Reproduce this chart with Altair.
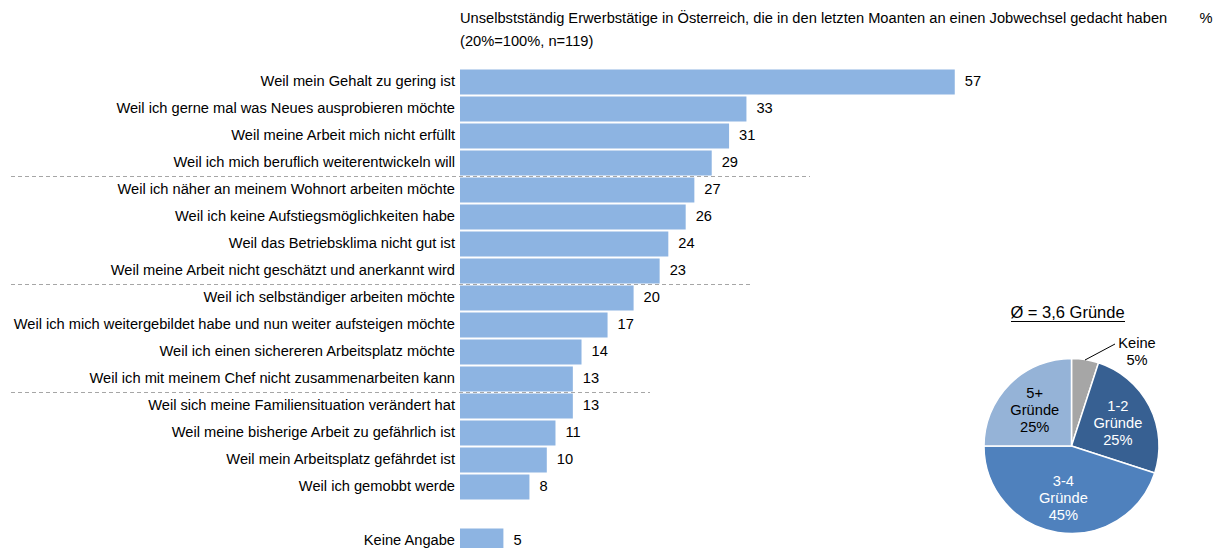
import altair as alt
import pandas as pd

# ---------------- data ----------------
reasons = [
    "Weil mein Gehalt zu gering ist",
    "Weil ich gerne mal was Neues ausprobieren möchte",
    "Weil meine Arbeit mich nicht erfüllt",
    "Weil ich mich beruflich weiterentwickeln will",
    "Weil ich näher an meinem Wohnort arbeiten möchte",
    "Weil ich keine Aufstiegsmöglichkeiten habe",
    "Weil das Betriebsklima nicht gut ist",
    "Weil meine Arbeit nicht geschätzt und anerkannt wird",
    "Weil ich selbständiger arbeiten möchte",
    "Weil ich mich weitergebildet habe und nun weiter aufsteigen möchte",
    "Weil ich einen sichereren Arbeitsplatz möchte",
    "Weil ich mit meinem Chef nicht zusammenarbeiten kann",
    "Weil sich meine Familiensituation verändert hat",
    "Weil meine bisherige Arbeit zu gefährlich ist",
    "Weil mein Arbeitsplatz gefährdet ist",
    "Weil ich gemobbt werde",
    "Keine Angabe",
]
values = [57, 33, 31, 29, 27, 26, 24, 23, 20, 17, 14, 13, 13, 11, 10, 8, 5]

title_line1 = "Unselbstständig Erwerbstätige in Österreich, die in den letzten Moanten an einen Jobwechsel gedacht haben"
title_line2 = "(20%=100%, n=119)"
unit_label = "%"

pie_cats = ["Keine", "1-2", "3-4", "5+"]
pie_vals = [5, 25, 45, 25]
pie_title = "Ø = 3,6 Gründe"

# ---------------- tables ----------------
GAP = " "
y_domain = reasons[:16] + [GAP] + reasons[16:]
bars_df = pd.DataFrame({"reason": reasons, "value": values})

pie_df = pd.DataFrame({
    "cat": pie_cats,
    "pct": pie_vals,
    "ord": list(range(len(pie_cats))),
    "label": [f"{c}\n{v}%" if c == "Keine" else f"{c}\nGründe\n{v}%" for c, v in zip(pie_cats, pie_vals)],
})

FONT = "Liberation Sans"
FS = 14.67
BAR_COLOR = "#8DB4E2"
PIE_COLORS = ["#A6A6A6", "#376092", "#4F81BD", "#95B3D7"]

W = 748
H = 486
STEP = 27
PX_PER_UNIT = 8.68

x_scale = alt.Scale(domain=[0, W / PX_PER_UNIT], nice=False, zero=True)
y_scale = alt.Scale(domain=y_domain, paddingInner=0.08, paddingOuter=0.04)

base = alt.Chart(bars_df)

bars = base.mark_bar(color=BAR_COLOR).encode(
    x=alt.X("value:Q", scale=x_scale, axis=None),
    y=alt.Y("reason:N", scale=y_scale, axis=None),
)

cat_labels = base.mark_text(align="right", baseline="middle", dx=-5, font=FONT, fontSize=FS, color="#000").encode(
    x=alt.value(0),
    y=alt.Y("reason:N", scale=y_scale, axis=None),
    text="reason:N",
)

val_labels = base.mark_text(align="left", baseline="middle", dx=10, font=FONT, fontSize=FS, color="#000").encode(
    x=alt.X("value:Q", scale=x_scale, axis=None),
    y=alt.Y("reason:N", scale=y_scale, axis=None),
    text="value:Q",
)

# dashed separators (after rows 4, 8, 12)
sep_layers = []
for row_idx, x_end in [(4, 350), (8, 290), (12, 190)]:
    sep_layers.append(
        alt.Chart(pd.DataFrame({"r": [y_domain[row_idx]]})).mark_rule(
            color="#A6A6A6", strokeDash=[4, 3], strokeWidth=1
        ).encode(
            x=alt.value(-449), x2=alt.value(x_end), y=alt.value(row_idx * STEP)
        )
    )

title_df = pd.DataFrame({"t1": [title_line1], "t2": [title_line2], "u": [unit_label]})
t1 = alt.Chart(title_df).mark_text(align="left", baseline="middle", font=FONT, fontSize=FS, color="#000").encode(
    x=alt.value(0), y=alt.value(-49.5), text="t1:N")
t2 = alt.Chart(title_df).mark_text(align="left", baseline="middle", font=FONT, fontSize=FS, color="#000").encode(
    x=alt.value(0), y=alt.value(-26.5), text="t2:N")
t3 = alt.Chart(title_df).mark_text(align="center", baseline="middle", font=FONT, fontSize=FS, color="#000").encode(
    x=alt.value(746), y=alt.value(-49.5), text="u:N")

# ---------------- pie ----------------
CX, CY, R = 611.5, 377.5, 87.5
pie_base = alt.Chart(pie_df)
arcs = pie_base.mark_arc(outerRadius=R, stroke="white", strokeWidth=1.5).encode(
    theta=alt.Theta("pct:Q", stack=True),
    order=alt.Order("ord:Q"),
    color=alt.Color("cat:N", scale=alt.Scale(domain=pie_cats, range=PIE_COLORS), legend=None),
    x=alt.value(CX), y=alt.value(CY),
)
inner_labels = pie_base.mark_text(radius=52, font=FONT, fontSize=FS, lineBreak="\n", lineHeight=17,
                                  align="center", baseline="middle", dy=-15).encode(
    theta=alt.Theta("pct:Q", stack=True),
    order=alt.Order("ord:Q"),
    text="label:N",
    fill=alt.when(alt.datum.cat == "5+").then(alt.value("#000")).otherwise(alt.value("#fff")),
    opacity=alt.when(alt.datum.cat == "Keine").then(alt.value(0)).otherwise(alt.value(1)),
    x=alt.value(CX), y=alt.value(CY),
)
keine_label = pie_base.transform_filter(alt.datum.cat == "Keine").mark_text(
    font=FONT, fontSize=FS, lineBreak="\n", lineHeight=17, align="center", baseline="middle", color="#000", dy=-8.5
).encode(text="label:N", x=alt.value(677), y=alt.value(283.5))
leader = pie_base.transform_filter(alt.datum.cat == "Keine").mark_rule(color="#000", strokeWidth=1).encode(
    x=alt.value(625), y=alt.value(291.5), x2=alt.value(655), y2=alt.value(275.5))

pie_title_df = pd.DataFrame({"t": [pie_title]})
pie_title_txt = alt.Chart(pie_title_df).mark_text(font=FONT, fontSize=16.5, align="center", baseline="middle",
                                                  color="#000").encode(
    text="t:N", x=alt.value(607.5), y=alt.value(244.5))
pie_title_ul = alt.Chart(pie_title_df).mark_rule(color="#000", strokeWidth=1).encode(
    x=alt.value(551), x2=alt.value(665), y=alt.value(253))

chart = alt.layer(
    bars, cat_labels, val_labels, *sep_layers, t1, t2, t3,
    arcs, inner_labels, keine_label, leader, pie_title_txt, pie_title_ul,
).properties(
    width=W, height=H,
    padding={"left": 452, "top": 60.5, "right": 8, "bottom": 0},
    autosize=alt.AutoSizeParams(type="none"),
).configure_view(stroke=None)

chart.save("out.html", embed_options={"renderer": "svg", "actions": False})
